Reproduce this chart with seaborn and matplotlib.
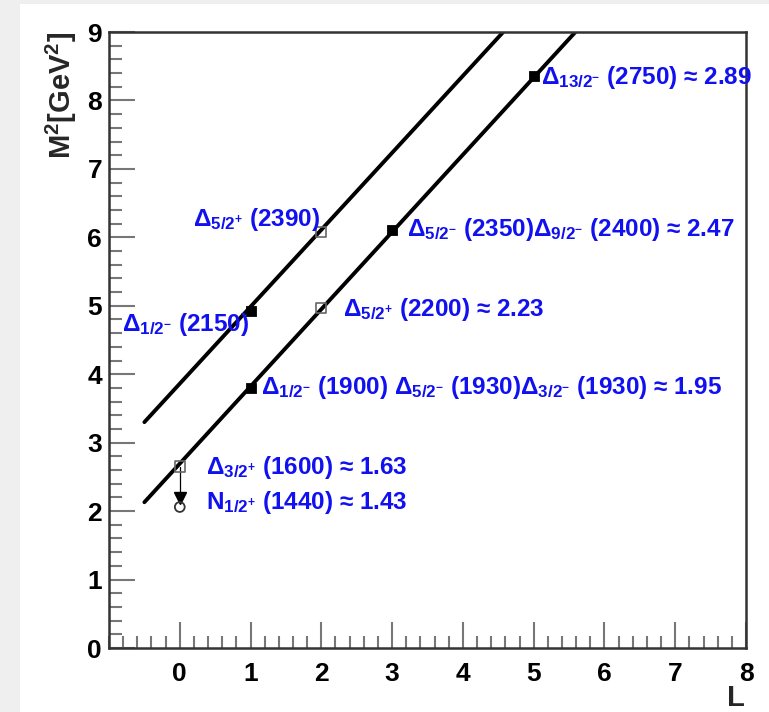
import numpy as np
import pandas as pd
import matplotlib
matplotlib.use("Agg")
import matplotlib.pyplot as plt
import seaborn as sns
from matplotlib.ticker import MultipleLocator
from matplotlib.patches import Rectangle

# ---- data ----
hi_line_L = [-0.5, 4.57]
hi_line_M2 = [3.30, 9.0]
lo_line_L = [-0.5, 5.59]
lo_line_M2 = [2.13, 9.0]

filled_L = [1, 1, 3, 5]
filled_M2 = [4.93, 3.80, 6.10, 8.35]
open_L = [0, 2, 2]
open_M2 = [2.65, 4.97, 6.08]
nucleon_L = [0]
nucleon_M2 = [2.06]
arrow_L = [0, 0]
arrow_M2 = [2.65, 2.19]

labels = [
    r"Δ$_{13/2^{-}}$ (2750) ≈ 2.89",
    r"Δ$_{5/2^{+}}$ (2390)",
    r"Δ$_{5/2^{-}}$ (2350)Δ$_{9/2^{-}}$ (2400) ≈ 2.47",
    r"Δ$_{1/2^{-}}$ (2150)",
    r"Δ$_{5/2^{+}}$ (2200) ≈ 2.23",
    r"Δ$_{1/2^{-}}$ (1900) Δ$_{5/2^{-}}$ (1930)Δ$_{3/2^{-}}$ (1930) ≈ 1.95",
    r"Δ$_{3/2^{+}}$ (1600) ≈ 1.63",
    r"N$_{1/2^{+}}$ (1440) ≈ 1.43",
]
label_L = [5.11, 0.19, 3.21, -0.82, 2.31, 1.15, 0.37, 0.37]
label_M2 = [8.33, 6.26, 6.11, 4.72, 4.94, 3.80, 2.63, 2.12]

x_ticks = [0, 1, 2, 3, 4, 5, 6, 7, 8]
y_ticks = [0, 1, 2, 3, 4, 5, 6, 7, 8, 9]

# ---- style ----
sns.set_theme(style="ticks")
plt.rcParams["font.family"] = ["Liberation Sans", "DejaVu Sans"]
plt.rcParams["font.weight"] = "bold"
plt.rcParams["mathtext.fontset"] = "custom"
plt.rcParams["mathtext.rm"] = "Liberation Sans:bold"
plt.rcParams["mathtext.it"] = "Liberation Sans:bold"
plt.rcParams["mathtext.bf"] = "Liberation Sans:bold"

fig = plt.figure(figsize=(7.69, 7.12), dpi=100, facecolor="white")
# light gray frame strips of the screenshot
fig.patches.append(Rectangle((0, 0), 20 / 769, 1, transform=fig.transFigure,
                             facecolor="#efefef", edgecolor="none", zorder=-10))
fig.patches.append(Rectangle((0, 1 - 4 / 712), 1, 4 / 712, transform=fig.transFigure,
                             facecolor="#efefef", edgecolor="none", zorder=-10))

ax = fig.add_axes([109 / 769, 1 - 648 / 712, (746 - 109) / 769, (648 - 32) / 712])
ax.set_facecolor("white")

lines_df = pd.DataFrame({
    "L": hi_line_L + lo_line_L,
    "M2": hi_line_M2 + lo_line_M2,
    "traj": ["hi"] * len(hi_line_L) + ["lo"] * len(lo_line_L),
})
sns.lineplot(data=lines_df, x="L", y="M2", units="traj", estimator=None,
             color="black", linewidth=2.8, ax=ax, zorder=2)

sns.lineplot(x=arrow_L, y=arrow_M2, color="black", linewidth=0.9, ax=ax,
             estimator=None, sort=False, zorder=3)
ax.plot([arrow_L[-1]], [arrow_M2[-1]], marker="v", color="black",
        markersize=9, linestyle="none", zorder=4)

sns.scatterplot(x=filled_L, y=filled_M2, marker="s", color="black", s=55,
                edgecolor="black", ax=ax, zorder=5)
sns.scatterplot(x=open_L, y=open_M2, marker="s", facecolor="none", s=55,
                edgecolor="#666666", linewidth=1.2, ax=ax, zorder=5)
sns.scatterplot(x=nucleon_L, y=nucleon_M2, marker="o", facecolor="none", s=50,
                edgecolor="#333333", linewidth=1.3, ax=ax, zorder=5)

for txt, lx, ly in zip(labels, label_L, label_M2):
    ax.text(lx, ly, txt, color="#1010f0", fontsize=17.5, fontweight="bold",
            ha="left", va="center", zorder=6, clip_on=False)

ax.set_xlim(-1, 8)
ax.set_ylim(0, 9)
ax.set_xticks(x_ticks)
ax.set_yticks(y_ticks)
ax.xaxis.set_minor_locator(MultipleLocator(0.2))
ax.yaxis.set_minor_locator(MultipleLocator(0.2))
ax.tick_params(axis="both", which="major", direction="in", length=19, width=1.5,
               color="#777777", labelsize=19, labelcolor="black")
ax.tick_params(axis="both", which="minor", direction="in", length=9, width=1.5,
               color="#777777")
ax.tick_params(axis="x", which="major", pad=10)
ax.tick_params(axis="y", which="major", pad=5)
for lab in ax.get_xticklabels() + ax.get_yticklabels():
    lab.set_fontweight("bold")

for side in ["left", "bottom", "right", "top"]:
    ax.spines[side].set_visible(True)
    ax.spines[side].set_color("#333333")
    ax.spines[side].set_linewidth(1.8)

ax.set_xlabel("L", fontsize=21, fontweight="bold", loc="right", labelpad=0)
ax.set_ylabel(r"M$^{2}$[GeV$^{2}$]", fontsize=21, fontweight="bold", loc="top")
ax.yaxis.set_label_coords(-0.047, 1.0)
ax.xaxis.set_label_coords(0.998, -0.058)

fig.savefig("out.png", dpi=100, facecolor=fig.get_facecolor())
